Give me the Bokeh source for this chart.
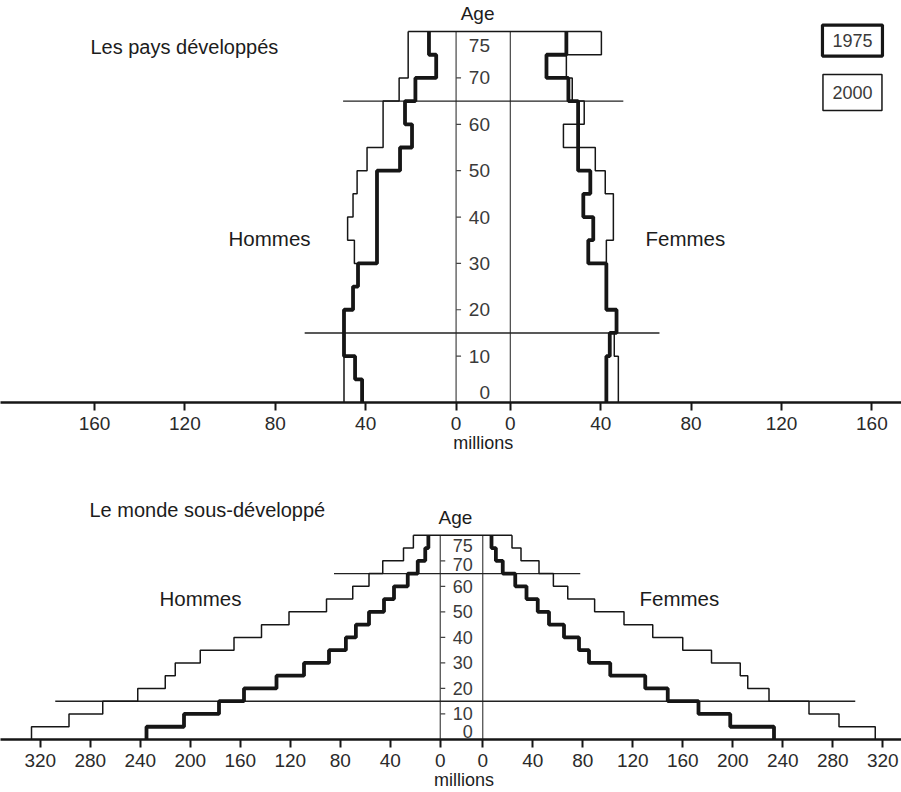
from bokeh.plotting import figure
from bokeh.models import FixedTicker, Label, Range1d, LinearAxis
from bokeh.layouts import column
from bokeh.embed import file_html
from bokeh.resources import INLINE
from bokeh.core.properties import value

# ---------------- data ----------------
band_starts = [0, 5, 10, 15, 20, 25, 30, 35, 40, 45, 50, 55, 60, 65, 70, 75]
band_width = 5
age_tick_values = [0, 10, 20, 30, 40, 50, 60, 70, 75]
age_tick_labels = ["0", "10", "20", "30", "40", "50", "60", "70", "75"]

# Les pays développés (millions), age groups 0-4 ... 75+
dev_men_1975 = [41.6, 44.7, 49.6, 49.6, 45.6, 43.4, 35, 35, 35, 35, 24.8, 19.5, 22.6, 18, 8.8, 12]
dev_men_2000 = [49.6, 49.6, 49.6, 49.6, 45.6, 43.4, 45, 48, 45.6, 43.8, 39.4, 32.3, 32.3, 25.2, 21.2, 21.2]
dev_women_1975 = [42.5, 42.5, 44, 47, 42.5, 42.5, 34.5, 36.7, 32.3, 35.4, 30, 30, 30, 25.7, 16, 24.8]
dev_women_2000 = [47.8, 47.8, 46, 47, 42.5, 42.5, 42.5, 45.6, 45.6, 42, 37.6, 23.5, 32.7, 27.4, 24.8, 40.3]

# Le monde sous-développé (millions)
und_men_1975 = [235, 205, 177, 157, 131, 109, 89, 75.5, 67.5, 57, 45, 37, 26, 18, 12, 9.5]
und_men_2000 = [327, 297, 270, 242, 220, 212, 192, 165, 143, 121, 91, 70, 57, 46, 29.4, 21.5]
und_women_1975 = [233, 198, 172.6, 148, 130, 102, 85, 77, 65, 53, 44, 35, 26, 16, 10.5, 7]
und_women_2000 = [314, 285, 261, 229, 212, 206, 183, 160, 136, 113, 89.5, 68, 56.5, 45, 30.6, 23.4]

x_ticks_top = [0, 40, 80, 120, 160]
x_ticks_bottom = [0, 40, 80, 120, 160, 200, 240, 280, 320]

FONT = "Liberation Sans"
INK = "#161616"


def outline(vals, side, g):
    xs, ys = [], []
    for a, v in zip(band_starts, vals):
        xs += [side * (g + v)] * 2
        ys += [a, a + band_width]
    return xs, ys


def panel(height, bottom, x0, x1, ytop, g, ticks, m75, m00, w75, w00, cfg):
    p = figure(width=901, height=height, x_range=Range1d(x0, x1), y_range=Range1d(0, ytop),
               output_backend="svg", toolbar_location=None, y_axis_location=None,
               min_border_left=0, min_border_right=0, min_border_top=0,
               min_border_bottom=bottom)
    p.outline_line_color = None
    p.grid.visible = False
    p.background_fill_color = "white"
    p.border_fill_color = "white"

    tick_pos = [-(g + t) for t in ticks] + [g + t for t in ticks]
    overrides = {}
    for t in ticks:
        overrides[-(g + t)] = str(t)
        overrides[g + t] = str(t)
    ax = p.xaxis[0]
    ax.ticker = FixedTicker(ticks=tick_pos)
    ax.major_label_overrides = overrides
    ax.axis_line_width = 2.5
    ax.axis_line_color = INK
    ax.major_tick_line_width = 2
    ax.major_tick_line_color = INK
    ax.major_tick_in = 0
    ax.major_tick_out = 8
    ax.minor_tick_line_color = None
    ax.major_label_text_font = cfg["tick_font"]
    ax.major_label_text_font_size = cfg["tick_size"]
    ax.major_label_text_color = "#2a2a2a"
    ax.major_label_standoff = cfg["standoff"]

    # second axis carrying only the unit label, centred on the gap
    ax2 = LinearAxis(ticker=FixedTicker(ticks=[cfg["mill_x"]]),
                     major_label_overrides={cfg["mill_x"]: "millions"},
                     axis_line_color=None, major_tick_line_color=None, minor_tick_line_color=None,
                     major_tick_in=0, major_tick_out=0,
                     major_label_text_font=FONT, major_label_text_font_size="18px",
                     major_label_text_color="#1c1c1c", major_label_standoff=cfg["mill_standoff"])
    p.add_layout(ax2, "below")

    # central axis lines and reference lines
    p.segment(x0=[-g, g], y0=[0, 0], x1=[-g, g], y1=[80, 80], line_color="#444444", line_width=1.2)
    p.segment(x0=[-(g + cfg["l65"]), -(g + cfg["l15"])], y0=[65, 15],
              x1=[g + cfg["r65"], g + cfg["r15"]], y1=[65, 15], line_color="#222222", line_width=1.4)
    p.segment(x0=[-(g + m00[-1])], y0=[80], x1=[g + w00[-1]], y1=[80], line_color=INK, line_width=1.6)

    # age ticks and labels
    tick_ages = [a for a in age_tick_values if 0 < a < 75]
    p.segment(x0=[-g] * len(tick_ages), y0=tick_ages, x1=[-g + cfg["tlen"]] * len(tick_ages),
              y1=tick_ages, line_color="#444444", line_width=1.2)
    label_y = [a + cfg["nudge"].get(a, 0) for a in age_tick_values]
    p.text(x=[cfg["lab_x"]] * len(age_tick_values), y=label_y, text=age_tick_labels,
           text_align="right", text_baseline="middle", text_font=value(FONT),
           text_font_size=cfg["age_size"], text_color="#3a3a3a")

    # pyramids
    for vals, side in ((m00, -1), (w00, 1)):
        xs, ys = outline(vals, side, g)
        p.line(xs, ys, line_color=INK, line_width=1.5)
    for vals, side in ((m75, -1), (w75, 1)):
        xs, ys = outline(vals, side, g)
        p.line(xs, ys, line_color=INK, line_width=3.8)
    return p


def lab(p, x, y, text, size, align="left", color="#1c1c1c"):
    p.add_layout(Label(x=x, y=y, text=text, text_font=FONT, text_font_size=size,
                       text_align=align, text_baseline="middle", text_color=color))


# ---------------- top panel ----------------
top_cfg = dict(tick_font=FONT, tick_size="19px", standoff=6, l65=50, r65=50, l15=67, r15=66,
               tlen=2.2, lab_x=3.0, nudge={0: 2.2, 75: 2.0}, age_size="19px",
               mill_x=0, mill_standoff=0)
p1 = panel(460, 58, -213.6, 185.1, 86.7, 12, x_ticks_top,
           dev_men_1975, dev_men_2000, dev_women_1975, dev_women_2000, top_cfg)

lab(p1, -2.5, 83.9, "Age", "19px", "center")
lab(p1, -173.8, 76.6, "Les pays développés", "20px")
lab(p1, -112.7, 35.4, "Hommes", "20.5px")
lab(p1, 71.8, 35.4, "Femmes", "20.5px")

# legend boxes
p1.rect(x=[163.4], y=[78.06], width=60, height=31, width_units="screen", height_units="screen",
        fill_color="white", line_color=INK, line_width=3.2)
p1.rect(x=[163.4], y=[66.85], width=59, height=36, width_units="screen", height_units="screen",
        fill_color="white", line_color=INK, line_width=1.5)
p1.text(x=[163.4, 163.4], y=[78.06, 66.85], text=["1975", "2000"], text_align="center",
        text_baseline="middle", text_font=value(FONT), text_font_size="18px", text_color="#3a3a3a")

# ---------------- bottom panel ----------------
bot_cfg = dict(tick_font=FONT, tick_size="19px", standoff=6, l65=85, r65=78,
               l15=308, r15=298, tlen=4, lab_x=9, nudge={0: 3, 70: -1.5, 75: 1}, age_size="18px",
               mill_x=2, mill_standoff=0)
p2 = panel(332, 52, -368.8, 352.0, 109.3, 17, x_ticks_bottom,
           und_men_1975, und_men_2000, und_women_1975, und_women_2000, bot_cfg)
lab(p2, -297.6, 89.8, "Le monde sous-développé", "20px")
lab(p2, -4.8, 87.0, "Age", "19px", "center")
lab(p2, -241.6, 55.4, "Hommes", "20.5px")
lab(p2, 142.4, 55.4, "Femmes", "20.5px")

layout = column(p1, p2, spacing=0)
open("out.html", "w").write(file_html(layout, INLINE))
